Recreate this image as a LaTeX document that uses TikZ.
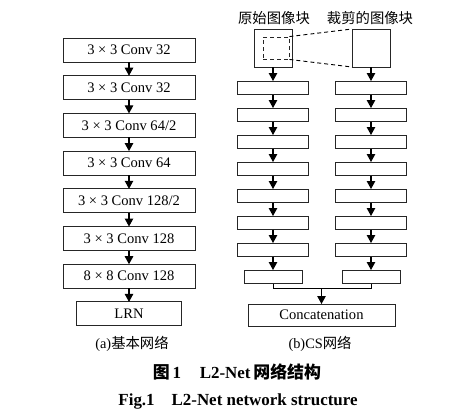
\documentclass[tikz,border=0pt]{standalone}
\usepackage{fontspec}
\setmainfont{Liberation Serif}
\newfontfamily\cjk{Noto Sans CJK SC}
\usetikzlibrary{arrows.meta,positioning}
\tikzset{
  layer/.style={rectangle,draw=black!85,line width=0.9bp,minimum width=132bp,minimum height=24bp,inner sep=0pt,outer sep=0pt,font=\fontsize{14.6}{16}\selectfont},
  slab/.style={rectangle,draw=black!85,line width=0.9bp,minimum width=71bp,minimum height=13.5bp,inner sep=0pt,outer sep=0pt},
  patch/.style={rectangle,draw=black!85,line width=0.9bp,minimum width=38bp,minimum height=38bp,inner sep=0pt,outer sep=0pt},
  arrow/.style={-{Triangle[length=8bp,width=8.5bp]},line width=1.1bp},
  capt/.style={inner sep=0pt,font=\fontsize{14.4}{16}\selectfont},
  headline/.style={inner sep=0pt,font=\fontsize{17}{19}\selectfont\bfseries},
}
\begin{document}
\begin{tikzpicture}[x=1bp,y=-1bp,node distance=13.7bp]
  \useasboundingbox (0,0) rectangle (451,415);

  % (a) basic network
  \node[layer] (c1) at (129,50) {3 × 3 Conv 32};
  \node[layer, below=of c1] (c2) {3 × 3 Conv 32};
  \node[layer, below=of c2] (c3) {3 × 3 Conv 64/2};
  \node[layer, below=of c3] (c4) {3 × 3 Conv 64};
  \node[layer, below=of c4] (c5) {3 × 3 Conv 128/2};
  \node[layer, below=of c5] (c6) {3 × 3 Conv 128};
  \node[layer, below=of c6] (c7) {8 × 8 Conv 128};
  \node[layer, minimum width=105bp, below=of c7] (lrn) {LRN};
  \node[capt] (capa) at (132,344) {(a){\cjk 基本网络}};

  \draw[arrow] (c1) -- (c2);
  \draw[arrow] (c2) -- (c3);
  \draw[arrow] (c3) -- (c4);
  \draw[arrow] (c4) -- (c5);
  \draw[arrow] (c5) -- (c6);
  \draw[arrow] (c6) -- (c7);
  \draw[arrow] (c7) -- (lrn);

  % (b) CS network: patches
  \node[patch] (orig) at (273,48) {};
  \node[patch] (crop) at (371,48) {};
  \node[draw=black!85, line width=0.9bp, dash pattern=on 4bp off 3bp, minimum width=26bp, minimum height=22bp, inner sep=0pt] (roi) at (276,48) {};
  \node[capt] (origlab) at (274,18) {\cjk 原始图像块};
  \node[capt] (croplab) at (370,18) {\cjk 裁剪的图像块};
  \draw[line width=0.9bp, dash pattern=on 4bp off 3bp] (roi.north east) -- (crop.north west);
  \draw[line width=0.9bp, dash pattern=on 4bp off 3bp] (roi.south east) -- (crop.south west);

  % (b) CS network: two branches
  \node[slab, below=14bp of orig] (l1) {};
  \node[slab, below=13.5bp of l1] (l2) {};
  \node[slab, below=13.5bp of l2] (l3) {};
  \node[slab, below=13.5bp of l3] (l4) {};
  \node[slab, below=13.5bp of l4] (l5) {};
  \node[slab, below=13.5bp of l5] (l6) {};
  \node[slab, below=13.5bp of l6] (l7) {};
  \node[slab, minimum width=58bp, below=13.5bp of l7] (l8) {};

  \node[slab, below=14bp of crop] (r1) {};
  \node[slab, below=13.5bp of r1] (r2) {};
  \node[slab, below=13.5bp of r2] (r3) {};
  \node[slab, below=13.5bp of r3] (r4) {};
  \node[slab, below=13.5bp of r4] (r5) {};
  \node[slab, below=13.5bp of r5] (r6) {};
  \node[slab, below=13.5bp of r6] (r7) {};
  \node[slab, minimum width=58bp, below=13.5bp of r7] (r8) {};

  \node[layer, minimum width=147bp, minimum height=22bp] (concat) at (321.5,315) {Concatenation};
  \coordinate (join) at (321.5,288);
  \node[capt] (capb) at (320,344) {(b)CS{\cjk 网络}};

  \draw[arrow] (orig) -- (l1);
  \draw[arrow] (l1) -- (l2);
  \draw[arrow] (l2) -- (l3);
  \draw[arrow] (l3) -- (l4);
  \draw[arrow] (l4) -- (l5);
  \draw[arrow] (l5) -- (l6);
  \draw[arrow] (l6) -- (l7);
  \draw[arrow] (l7) -- (l8);
  \draw[arrow] (crop) -- (r1);
  \draw[arrow] (r1) -- (r2);
  \draw[arrow] (r2) -- (r3);
  \draw[arrow] (r3) -- (r4);
  \draw[arrow] (r4) -- (r5);
  \draw[arrow] (r5) -- (r6);
  \draw[arrow] (r6) -- (r7);
  \draw[arrow] (r7) -- (r8);
  \draw[line width=0.9bp] (l8) |- (join);
  \draw[line width=0.9bp] (r8) |- (join);
  \draw[arrow] (join) -- (concat);

  % figure caption
  \node[headline] (title) at (237,372) {{\cjk 图}\,1\hspace{1.1em}L2-Net\,{\cjk 网络结构}};
  \node[headline] (titleen) at (238,401) {Fig.1\hspace{1em}L2-Net network structure};
\end{tikzpicture}
\end{document}
